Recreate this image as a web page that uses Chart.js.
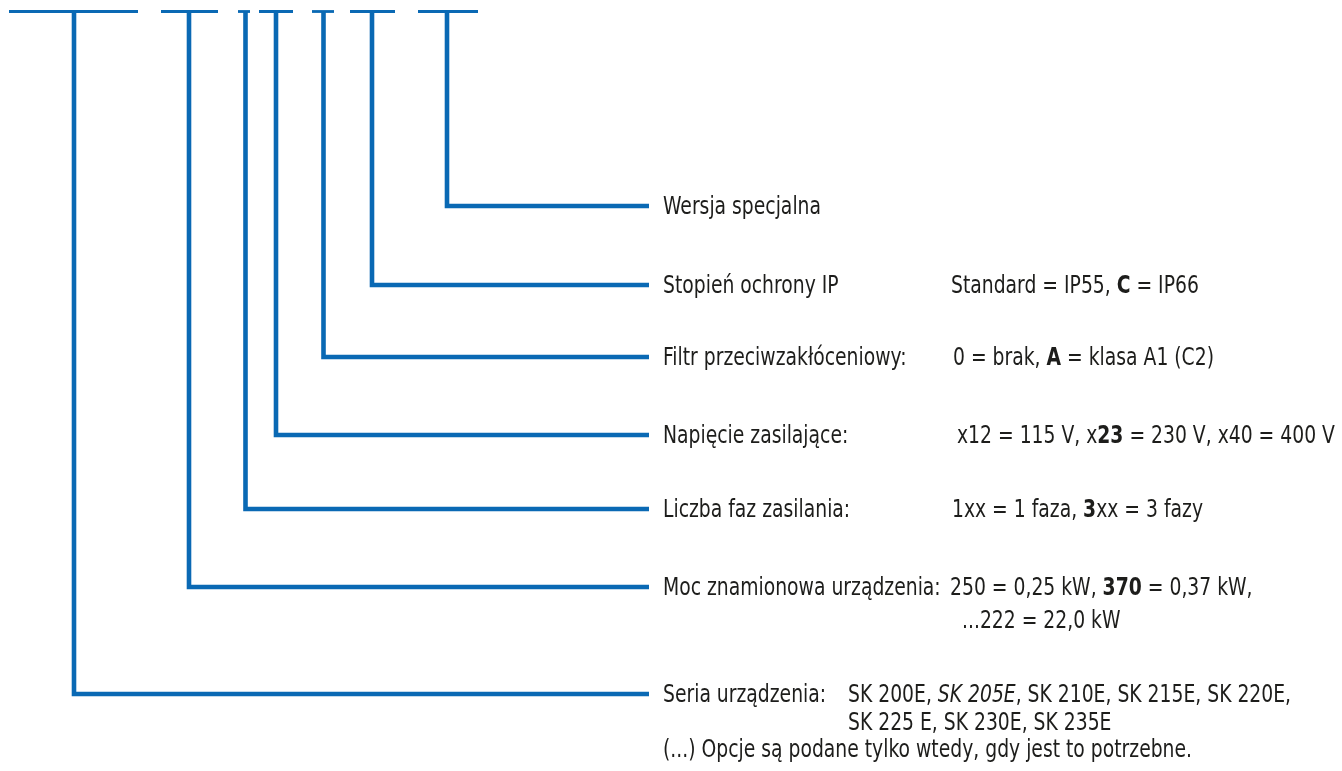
<!DOCTYPE html>
<html lang="pl">
<head>
<meta charset="utf-8">
<title>Oznaczenie typu SK 200E</title>
<script src="https://cdn.jsdelivr.net/npm/chart.js@4.4.1/dist/chart.umd.min.js"></script>
<style>
    html, body { margin: 0; padding: 0; background: #ffffff; }
    #wrap { position: relative; width: 1342px; height: 771px; }
</style>
</head>
<body>
<div id="wrap"><canvas id="kodChart"></canvas></div>
<script>
// Dane schematu - pozycje w układzie rysunku (0..1342 x 0..771)
const etykiety = ['Seria urządzenia:', 'Moc znamionowa urządzenia:', 'Liczba faz zasilania:',
    'Napięcie zasilające:', 'Filtr przeciwzakłóceniowy:', 'Stopień ochrony IP', 'Wersja specjalna'];
const odgalezienieX = [74, 189, 245.5, 276, 323.5, 372, 447];
const odgalezienieY = [694, 587, 509, 435, 357, 285, 206];
const belkaStart = [9, 161, 238, 259, 312, 350, 418];
const belkaKoniec = [138, 218, 250, 293, 334, 395, 478];
const belkaY = 11.5;
const liniaKoniecX = 649;

// Wartości: linie -> fragmenty [tekst, styl]
const wartosci = [
    [[['SK 200E, ', ''], ['SK 205E', 'i'], [', SK 210E, SK 215E, SK 220E,', '']],
     [['SK 225 E, SK 230E, SK 235E', '']]],
    [[['250 = 0,25 kW, ', ''], ['370', 'b'], [' = 0,37 kW,', '']],
     [['...222 = 22,0 kW', '']]],
    [[['1xx = 1 faza, ', ''], ['3', 'b'], ['xx = 3 fazy', '']]],
    [[['x12 = 115 V, x', ''], ['23', 'b'], [' = 230 V, x40 = 400 V', '']]],
    [[['0 = brak, ', ''], ['A', 'b'], [' = klasa A1 (C2)', '']]],
    [[['Standard = IP55, ', ''], ['C', 'b'], [' = IP66', '']]],
    []
];
const wartoscX = [[848, 848], [950, 962], [952], [957], [953], [951], []];
const przypis = '(...) Opcje są podane tylko wtedy, gdy jest to potrzebne.';

const NIEBIESKI = '#0a69b4';
const TEKST = '#1d1d1b';
const ROZMIAR = 24;
const RODZINA = '"Liberation Sans Narrow", "DejaVu Sans Condensed", "Liberation Sans", sans-serif';
const ETYKIETA_X = 663;

// Zbiory danych: belki u góry i łamane odgałęzienia
const zbiory = [];
belkaStart.forEach((s, i) => {
    zbiory.push({
        data: [{ x: s, y: belkaY }, { x: belkaKoniec[i], y: belkaY }],
        borderColor: NIEBIESKI,
        borderWidth: 2.8
    });
});
odgalezienieX.forEach((x, i) => {
    zbiory.push({
        data: [{ x: x, y: belkaY }, { x: x, y: odgalezienieY[i] }, { x: liniaKoniecX, y: odgalezienieY[i] }],
        borderColor: NIEBIESKI,
        borderWidth: 4.6
    });
});

function czcionka(styl) {
    if (styl === 'b') return '600 ' + ROZMIAR + 'px ' + RODZINA;
    if (styl === 'i') return 'italic ' + ROZMIAR + 'px ' + RODZINA;
    return ROZMIAR + 'px ' + RODZINA;
}

const napisyPlugin = {
    id: 'napisy',
    afterDatasetsDraw(chart) {
        const ctx = chart.ctx;
        const sx = chart.scales.x;
        const sy = chart.scales.y;
        ctx.save();
        ctx.fillStyle = TEKST;
        ctx.textBaseline = 'middle';
        ctx.textAlign = 'left';
        // kalibracja szerokości kroju (wąska czcionka)
        ctx.font = czcionka('');
        const skala = 158 / ctx.measureText('Wersja specjalna').width;

        function rysuj(fragmenty, x, y, maxSzer) {
            let px = sx.getPixelForValue(x);
            const py = sy.getPixelForValue(y);
            let calosc = 0;
            fragmenty.forEach(([t, styl]) => {
                ctx.font = czcionka(styl);
                calosc += ctx.measureText(t).width * skala;
            });
            const k = (maxSzer && calosc > maxSzer) ? maxSzer / calosc : 1;
            fragmenty.forEach(([t, styl]) => {
                ctx.font = czcionka(styl);
                ctx.save();
                ctx.translate(px, py);
                ctx.scale(skala * k, 1);
                ctx.fillText(t, 0, 0);
                ctx.restore();
                px += ctx.measureText(t).width * skala * k;
            });
        }

        etykiety.forEach((e, i) => {
            const y = odgalezienieY[i] + 2;
            const nast = wartoscX[i].length ? wartoscX[i][0] - ETYKIETA_X - 9 : 0;
            rysuj([[e, '']], ETYKIETA_X, y, nast);
            const odstep = i === 1 ? 33 : 27.5;
            wartosci[i].forEach((linia, j) => {
                rysuj(linia, wartoscX[i][j], y + j * odstep);
            });
        });
        rysuj([[przypis, '']], ETYKIETA_X, odgalezienieY[0] + 2 + 55);
        ctx.restore();
    }
};

new Chart(document.getElementById('kodChart'), {
    type: 'scatter',
    data: { datasets: zbiory },
    options: {
        responsive: true,
        maintainAspectRatio: false,
        animation: false,
        showLine: true,
        layout: { padding: 0 },
        elements: {
            point: { radius: 0, hoverRadius: 0 },
            line: { borderCapStyle: 'butt', borderJoinStyle: 'miter', tension: 0 }
        },
        plugins: { legend: { display: false }, tooltip: { enabled: false } },
        scales: {
            x: { type: 'linear', min: 0, max: 1342, display: false },
            y: { type: 'linear', min: 0, max: 771, reverse: true, display: false }
        }
    },
    plugins: [napisyPlugin]
});
</script>
</body>
</html>
